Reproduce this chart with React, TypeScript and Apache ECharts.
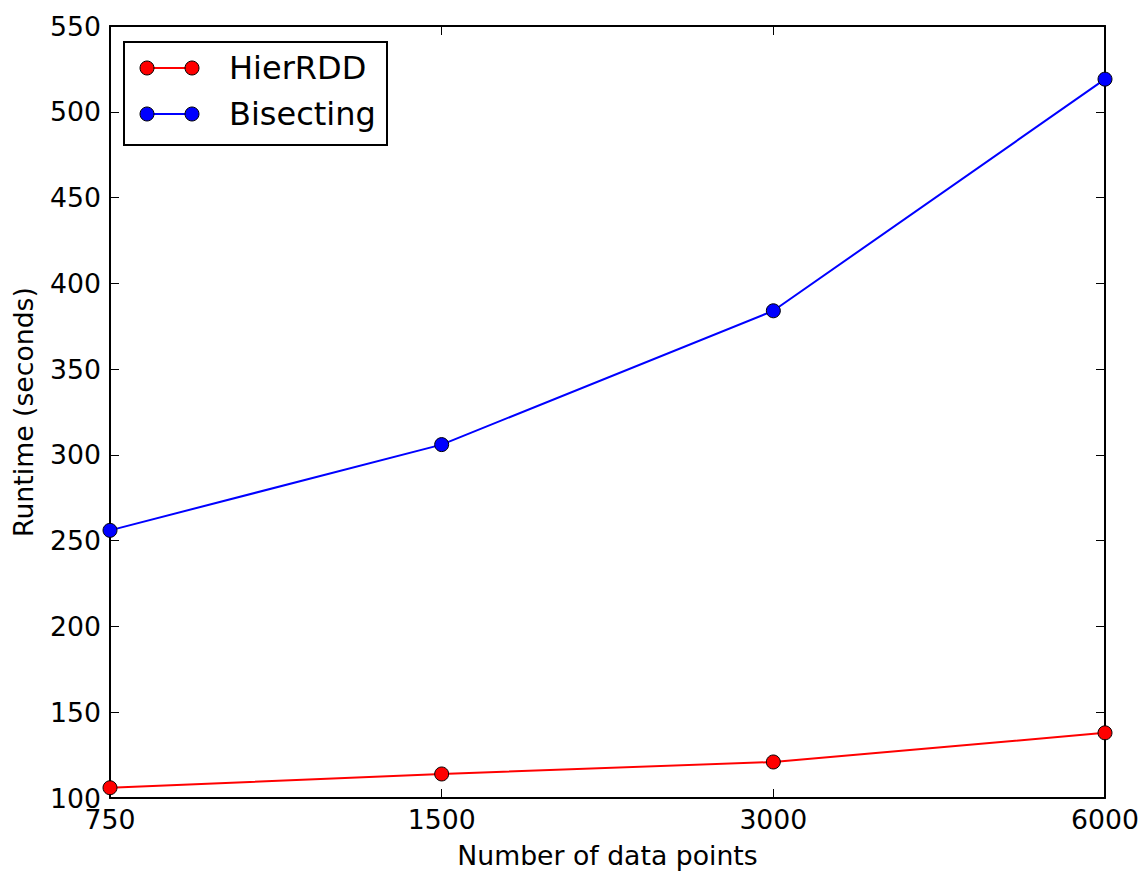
import React, { useEffect, useRef } from "react";
import * as echarts from "echarts";

const categories = ["750", "1500", "3000", "6000"];
const hierRDD = [106, 114, 121, 138];
const bisecting = [256, 306, 384, 519];
const seriesNames = ["HierRDD", "Bisecting"];
const seriesColors = ["#ff0000", "#0000ff"];

const FONT = "DejaVu Sans";
const FS = 26.7;

export default function App() {
  const ref = useRef<HTMLDivElement>(null);
  useEffect(() => {
    if (!ref.current) return;
    const chart = echarts.init(ref.current, null, { renderer: "svg" });
    const axisCommon = {
      axisLine: { show: true, lineStyle: { color: "#000", width: 2 } },
      axisTick: { show: true, inside: true, length: 9, lineStyle: { color: "#000", width: 1 } },
      splitLine: { show: false },
    };
    const legendRows = seriesNames.map((name, i) => {
      const y = 68 + i * 46;
      return [
        { type: "line", shape: { x1: 147, y1: y, x2: 192, y2: y }, style: { stroke: seriesColors[i], lineWidth: 2 } },
        { type: "circle", shape: { cx: 147, cy: y, r: 7 }, style: { fill: seriesColors[i], stroke: "#000", lineWidth: 1 } },
        { type: "circle", shape: { cx: 192, cy: y, r: 7 }, style: { fill: seriesColors[i], stroke: "#000", lineWidth: 1 } },
        {
          type: "text",
          x: 229,
          y: y,
          style: { text: name, font: `32px '${FONT}'`, fill: "#000", verticalAlign: "middle" },
        },
      ];
    }).flat();
    chart.setOption({
      animation: false,
      backgroundColor: "#fff",
      textStyle: { fontFamily: FONT },
      grid: { left: 110, top: 26, right: 39, bottom: 75, containLabel: false, outerBoundsMode: "none" },
      xAxis: [
        {
          type: "category",
          data: categories,
          boundaryGap: false,
          position: "bottom",
          name: "Number of data points",
          nameLocation: "middle",
          nameGap: 44,
          nameTextStyle: { fontSize: FS, color: "#000", fontFamily: FONT },
          axisLabel: { fontSize: FS, color: "#000", margin: 8, fontFamily: FONT },
          ...axisCommon,
        },
        {
          type: "category",
          data: categories,
          boundaryGap: false,
          position: "top",
          axisLabel: { show: false },
          ...axisCommon,
        },
      ],
      yAxis: [
        {
          type: "value",
          min: 100,
          max: 550,
          interval: 50,
          position: "left",
          name: "Runtime (seconds)",
          nameLocation: "middle",
          nameGap: 73,
          nameTextStyle: { fontSize: FS, color: "#000", fontFamily: FONT },
          axisLabel: { fontSize: FS, color: "#000", margin: 9, fontFamily: FONT },
          ...axisCommon,
        },
        {
          type: "value",
          min: 100,
          max: 550,
          interval: 50,
          position: "right",
          axisLabel: { show: false },
          ...axisCommon,
        },
      ],
      series: [
        {
          name: seriesNames[0],
          type: "line",
          data: hierRDD,
          symbol: "circle",
          symbolSize: 14,
          clip: true,
          lineStyle: { color: seriesColors[0], width: 2 },
          itemStyle: { color: seriesColors[0], borderColor: "#000", borderWidth: 1 },
        },
        {
          name: seriesNames[1],
          type: "line",
          data: bisecting,
          symbol: "circle",
          symbolSize: 14,
          clip: true,
          lineStyle: { color: seriesColors[1], width: 2 },
          itemStyle: { color: seriesColors[1], borderColor: "#000", borderWidth: 1 },
        },
      ],
      graphic: [
        {
          type: "rect",
          shape: { x: 124, y: 42, width: 263, height: 103 },
          style: { fill: "#fff", stroke: "#000", lineWidth: 2 },
          z: 100,
        },
        ...legendRows.map((e: any) => ({ ...e, z: 101 })),
      ],
    });
    return () => chart.dispose();
  }, []);
  return (
    <div
      ref={ref}
      style={{ position: "absolute", left: 0, top: 0, width: 1144, height: 873 }}
    />
  );
}
